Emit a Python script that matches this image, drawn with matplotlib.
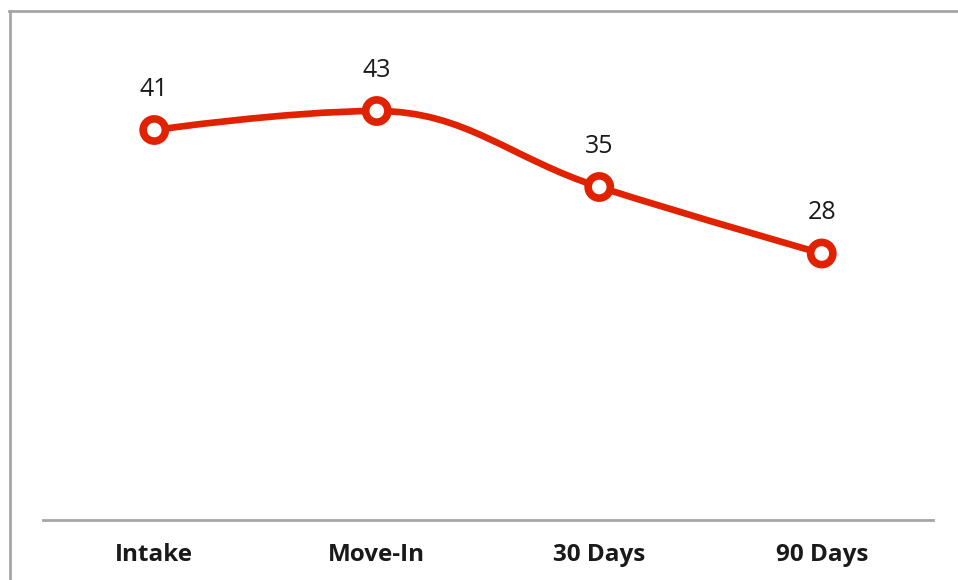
import matplotlib
matplotlib.use("Agg")
import matplotlib.pyplot as plt
import matplotlib.patheffects as pe
from matplotlib.path import Path
from matplotlib.patches import PathPatch
from matplotlib.lines import Line2D

# data
categories = ["Intake", "Move-In", "30 Days", "90 Days"]
values = [41, 43, 35, 28]

RED = "#e02200"
GRAY = "#a6a6a6"


def spline_path(xs, ys, smoothing=1.5):
    # cubic bezier spline, control points like highcharts "spline" series
    n = len(xs)
    left = [None] * n
    right = [None] * n
    d = smoothing + 1
    for i in range(1, n - 1):
        x, y = xs[i], ys[i]
        lx = (smoothing * x + xs[i - 1]) / d
        ly = (smoothing * y + ys[i - 1]) / d
        rx = (smoothing * x + xs[i + 1]) / d
        ry = (smoothing * y + ys[i + 1]) / d
        corr = (ry - ly) * (rx - x) / (rx - lx) + y - ry
        ly += corr
        ry += corr
        lo, hi = min(ys[i - 1], y), max(ys[i - 1], y)
        if ly > hi or ly < lo:
            ly = min(max(ly, lo), hi)
            ry = 2 * y - ly
        lo, hi = min(ys[i + 1], y), max(ys[i + 1], y)
        if ry > hi or ry < lo:
            ry = min(max(ry, lo), hi)
            ly = 2 * y - ry
        left[i] = (lx, ly)
        right[i] = (rx, ry)
    verts = [(xs[0], ys[0])]
    codes = [Path.MOVETO]
    for i in range(1, n):
        c1 = right[i - 1] or (xs[i - 1], ys[i - 1])
        c2 = left[i] or (xs[i], ys[i])
        verts += [c1, c2, (xs[i], ys[i])]
        codes += [Path.CURVE4] * 3
    return Path(verts, codes)


fig = plt.figure(figsize=(9.58, 5.8), dpi=100)
ax = fig.add_axes([43 / 958, (580 - 519.5) / 580, 890 / 958, 475 / 580])

xs = list(range(len(values)))
curve = PathPatch(spline_path(xs, values), facecolor="none", edgecolor=RED,
                  lw=4.8, capstyle="round", joinstyle="round", zorder=2,
                  transform=ax.transData)
ax.add_patch(curve)

ax.plot(xs, values, ls="none", marker="o", ms=16, mfc="white", mec=RED,
        mew=5.5, zorder=3,
        path_effects=[pe.SimplePatchShadow(offset=(1.2, -1.2), alpha=0.25),
                      pe.Normal()])

for x, v in zip(xs, values):
    ax.annotate(str(v), (x, v), xytext=(0, 29.5), textcoords="offset points",
                ha="center", va="center", fontsize=18, family="Open Sans",
                color="#1a1a1a")

ax.set_xlim(-0.5, len(values) - 0.5)
ax.set_ylim(0, 50)
ax.set_yticks([])
ax.set_xticks(xs)
ax.set_xticklabels(categories, fontsize=17.5, fontweight="bold",
                   family="Open Sans", color="#1a1a1a")
ax.tick_params(axis="x", length=0, pad=17)
for s in ["top", "left", "right"]:
    ax.spines[s].set_visible(False)
ax.spines["bottom"].set_color(GRAY)
ax.spines["bottom"].set_linewidth(2)

# outer frame, only top and left edges are inside the image
fig.add_artist(Line2D([10 / 958, 10 / 958], [0, 1 - 10.5 / 580],
                      color=GRAY, lw=2))
fig.add_artist(Line2D([9.3 / 958, 1], [1 - 10.5 / 580, 1 - 10.5 / 580],
                      color=GRAY, lw=2))

fig.savefig("out.png", dpi=100)
